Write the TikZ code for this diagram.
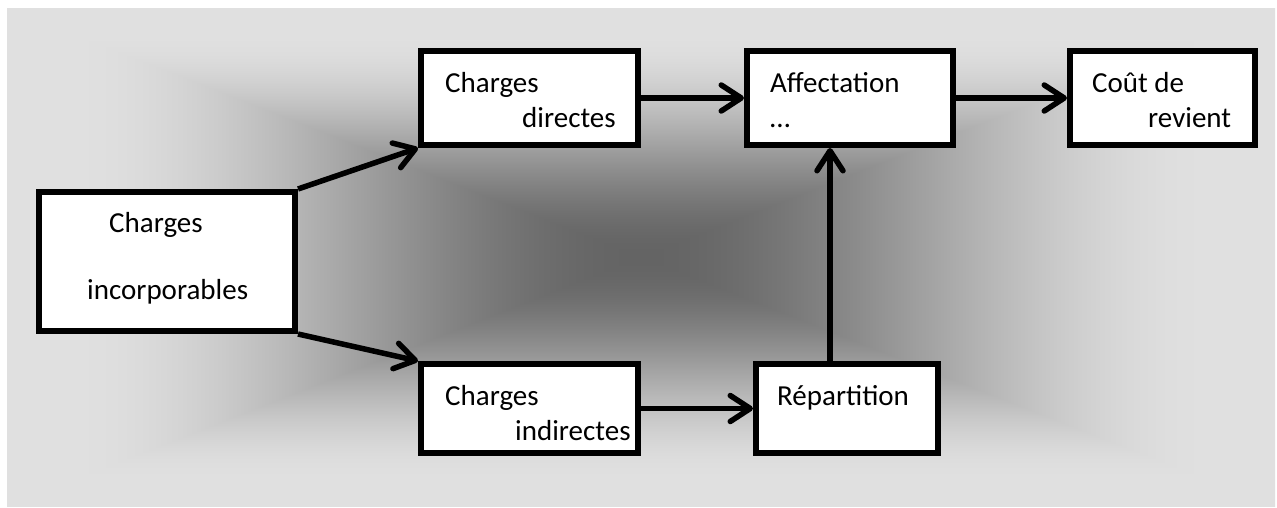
\documentclass[tikz,border=0pt]{standalone}
\usepackage{fontspec}
\setmainfont{Carlito}
\usepackage{tikz}
\usetikzlibrary{arrows.meta}
% grey from the middle (0.392) out to the edge (0.878)
\pgfdeclarefunctionalshading{fromcentre}{\pgfpoint{-50bp}{-50bp}}{\pgfpoint{50bp}{50bp}}{}{
  abs exch abs 2 copy lt {exch} if pop 22.5 div dup 1 gt {pop 1} if
  dup dup mul exch 2 mul 3 exch sub mul 0.486 mul 0.392 add dup dup
}

\begin{document}
\begin{tikzpicture}[
  box/.style={rectangle, draw=black, fill=white, line width=6pt, inner sep=0pt},
  txt/.style={anchor=base west, inner sep=0pt, text width=260pt, align=flush left, font=\fontsize{29}{35}\selectfont},
  arr/.style={line width=5.5pt, -{Straight Barb[round, length=20pt, width=26pt]}}]
\useasboundingbox (0pt,0pt) rectangle (1277pt,-507pt);
% background
\shade[shading=fromcentre] (7pt,-8pt) rectangle (1275pt,-506pt);
\node (inc) [box, minimum width=256pt, minimum height=139pt] at (167pt, -261.5pt) {};
\node (dir) [box, minimum width=217pt, minimum height=94pt] at (529.5pt, -98pt) {};
\node (ind) [box, minimum width=217pt, minimum height=89pt] at (529.5pt, -408.5pt) {};
\node (aff) [box, minimum width=206pt, minimum height=94pt] at (850pt, -98pt) {};
\node (rep) [box, minimum width=182pt, minimum height=89pt] at (847pt, -408.5pt) {};
\node (cout) [box, minimum width=185pt, minimum height=94pt] at (1162.5pt, -98pt) {};
% texts
\node (inc-t) [txt] at (87pt, -232pt) {\hspace*{22pt}Charges\\[32pt]incorporables};
\node (dir-t) [txt] at (445pt, -92pt) {Charges\\\hspace*{77pt}directes};
\node (ind-t) [txt] at (445pt, -405pt) {Charges\\\hspace*{70pt}indirectes};
\node (aff-t) [txt] at (770pt, -92pt) {Affectation\\…};
\node (rep-t) [txt] at (777pt, -405pt) {Répartition};
\node (cout-t) [txt] at (1092pt, -92pt) {Coût de\\\hspace*{56pt}revient};
\draw [arr] (inc.north east) to (dir.south west);
\draw [arr] (inc.south east) to (ind.north west);
\draw [arr] (dir) to (aff);
\draw [arr] (aff) to (cout);
\draw [arr] (ind) to (rep);
\draw [arr] ([xshift=-17pt]rep.north) to ([xshift=-20pt]aff.south);
\end{tikzpicture}
\end{document}
